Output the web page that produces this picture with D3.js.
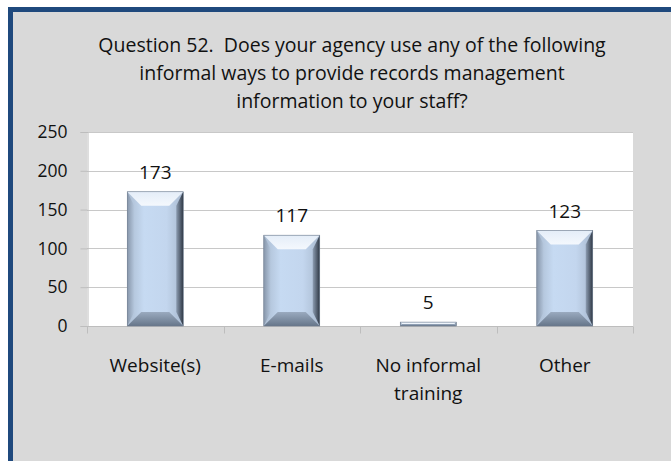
<!DOCTYPE html>
<html><head><meta charset="utf-8">
<script src="https://cdn.jsdelivr.net/npm/d3@7"></script>
<style>html,body{margin:0;padding:0;background:#fff;}svg{display:block;} text{white-space:pre;}</style>
</head><body>
<svg id="c" width="671" height="461"></svg>
<script>
const categories = ["Website(s)", "E-mails", "No informal training", "Other"];
const categoryLines = [["Website(s)"], ["E-mails"], ["No informal", "training"], ["Other"]];
const values = [173, 117, 5, 123];
const yTicks = [0, 50, 100, 150, 200, 250];
const titleLines = ["Question 52.  Does your agency use any of the following",
  "informal ways to provide records management",
  "information to your staff?"];

const svg = d3.select("#c");
const font = "'Open Sans', sans-serif";

// outer frame
svg.append("rect").attr("x", 10.5).attr("y", 9.5).attr("width", 680).attr("height", 480)
  .attr("fill", "#d9d9d9").attr("stroke", "#1f497d").attr("stroke-width", 5);

const m = {l: 87, r: 633, t: 132, b: 326};
const x = d3.scaleBand().domain(categories).range([m.l, m.r]).paddingInner(0.59).paddingOuter(0.295);
const y = d3.scaleLinear().domain([0, 250]).range([m.b, m.t]);

// plot area
svg.append("rect").attr("x", m.l).attr("y", m.t).attr("width", m.r - m.l).attr("height", m.b - m.t).attr("fill", "#fff");

// gridlines
svg.append("g").selectAll("line").data(yTicks.filter(d => d > 0)).join("line")
  .attr("x1", m.l).attr("x2", m.r).attr("y1", d => Math.round(y(d)) + 0.5).attr("y2", d => Math.round(y(d)) + 0.5)
  .attr("stroke", "#c8c8c8").attr("stroke-width", 1);

// y axis
const ya = svg.append("g").attr("transform", `translate(${m.l + 0.5},0)`)
  .call(d3.axisLeft(y).tickValues(yTicks).tickSize(7).tickPadding(13));
ya.select(".domain").attr("stroke", "#bdbdbd");
ya.selectAll(".tick line").attr("stroke", "#bdbdbd");
ya.selectAll(".tick text").attr("font-family", font).attr("font-size", 17.5).attr("fill", "#111");

// x axis baseline and ticks
const xa = svg.append("g").attr("transform", `translate(0,${m.b + 0.5})`);
xa.append("line").attr("x1", m.l).attr("x2", m.r).attr("stroke", "#bdbdbd");
const bounds = d3.range(categories.length + 1).map(i => m.l + i * (m.r - m.l) / categories.length);
xa.selectAll(".tk").data(bounds).join("line").attr("class", "tk")
  .attr("x1", d => Math.round(d) + 0.5).attr("x2", d => Math.round(d) + 0.5).attr("y1", 0).attr("y2", 7)
  .attr("stroke", "#bdbdbd");

// gradients
const defs = svg.append("defs");
const g1 = defs.append("linearGradient").attr("id", "face").attr("x1", 0).attr("x2", 1).attr("y1", 0).attr("y2", 0);
g1.append("stop").attr("offset", 0).attr("stop-color", "#aabbd0");
g1.append("stop").attr("offset", 0.3).attr("stop-color", "#c6daf2");
g1.append("stop").attr("offset", 0.7).attr("stop-color", "#c3d6ee");
g1.append("stop").attr("offset", 1).attr("stop-color", "#a8b9cf");
const gR = defs.append("linearGradient").attr("id", "right").attr("x1", 0).attr("x2", 1).attr("y1", 0).attr("y2", 0);
gR.append("stop").attr("offset", 0).attr("stop-color", "#8d9db2");
gR.append("stop").attr("offset", 1).attr("stop-color", "#2e3744");
const gL = defs.append("linearGradient").attr("id", "left").attr("x1", 0).attr("x2", 1).attr("y1", 0).attr("y2", 0);
gL.append("stop").attr("offset", 0).attr("stop-color", "#8796aa");
gL.append("stop").attr("offset", 1).attr("stop-color", "#b5c7dd");
const gT = defs.append("linearGradient").attr("id", "top").attr("x1", 0).attr("x2", 0).attr("y1", 0).attr("y2", 1);
gT.append("stop").attr("offset", 0).attr("stop-color", "#e4edf8");
gT.append("stop").attr("offset", 1).attr("stop-color", "#f4f8fd");
const gB = defs.append("linearGradient").attr("id", "bot").attr("x1", 0).attr("x2", 0).attr("y1", 0).attr("y2", 1);
gB.append("stop").attr("offset", 0).attr("stop-color", "#9aaabf");
gB.append("stop").attr("offset", 1).attr("stop-color", "#66768a");

// bars
const bars = svg.append("g").selectAll("g").data(categories).join("g");
bars.each(function(c, i) {
  const gsel = d3.select(this);
  const x0 = x(c), x1 = x(c) + x.bandwidth();
  const y0 = y(values[i]), y1 = y(0);
  const h = y1 - y0;
  const bv = Math.min(15, h / 2, x.bandwidth() / 4);
  gsel.append("rect").attr("x", x0).attr("y", y0).attr("width", x1 - x0).attr("height", h).attr("fill", "url(#face)");
  if (bv > 0) {
    const poly = (pts, fill) => gsel.append("polygon").attr("points", pts.map(p => p.join(",")).join(" ")).attr("fill", fill);
    poly([[x0, y0], [x1, y0], [x1 - bv, y0 + bv], [x0 + bv, y0 + bv]], "url(#top)");
    poly([[x0, y1], [x0 + bv, y1 - bv], [x1 - bv, y1 - bv], [x1, y1]], "url(#bot)");
    poly([[x0, y0], [x0 + bv * 0.5, y0 + bv], [x0 + bv * 0.5, y1 - bv], [x0, y1]], "url(#left)");
    poly([[x1, y0], [x1 - bv * 0.5, y0 + bv], [x1 - bv * 0.5, y1 - bv], [x1, y1]], "url(#right)");
  }
  gsel.append("rect").attr("x", x0).attr("y", y0).attr("width", x1 - x0).attr("height", h)
    .attr("fill", "none").attr("stroke", "#6c7a8c").attr("stroke-width", 0.6);
  gsel.append("text").attr("x", x0 + x.bandwidth() / 2).attr("y", y0 - 13)
    .attr("text-anchor", "middle").attr("font-family", font).attr("font-size", 19).attr("fill", "#111")
    .text(values[i]);
});

// category labels
const cl = svg.append("g").selectAll("text").data(categories).join("text")
  .attr("x", d => x(d) + x.bandwidth() / 2).attr("y", 372)
  .attr("text-anchor", "middle").attr("font-family", font).attr("font-size", 19).attr("fill", "#111");
cl.each(function(d, i) {
  d3.select(this).selectAll("tspan").data(categoryLines[i]).join("tspan")
    .attr("x", x(d) + x.bandwidth() / 2).attr("dy", (t, j) => j === 0 ? 0 : 28).text(t => t);
});

// title
svg.append("g").selectAll("text").data(titleLines).join("text")
  .attr("x", 352).attr("y", (d, i) => 52 + i * 28)
  .attr("text-anchor", "middle").attr("font-family", font).attr("font-size", 19.5).attr("fill", "#111")
  .text(d => d);
</script>
</body></html>
